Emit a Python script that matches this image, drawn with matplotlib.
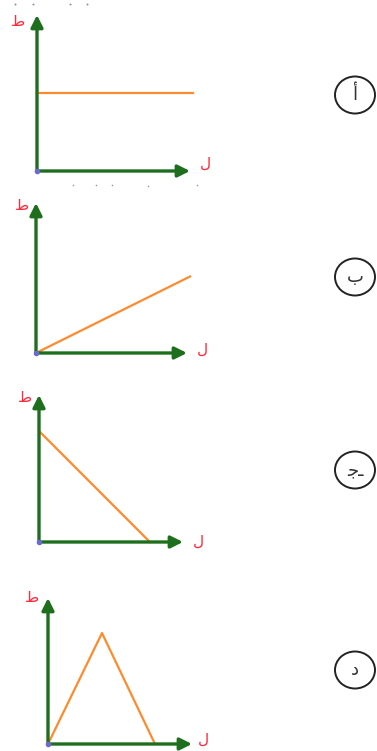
import matplotlib.pyplot as plt
from matplotlib.patches import Ellipse

W, H = 377, 751

# each panel: velocity (ط) against time (ل), arbitrary units 0..10
panel_letters = ['أ', 'ب', 'ﺟـ', 'د']
t_a = [0, 10.2]
v_a = [5.0, 5.0]
t_b = [0, 10.2]
v_b = [0, 5.1]
t_c = [0, 7.7]
v_c = [7.55, 0]
t_d = [0, 3.75, 7.43]
v_d = [0, 7.6, 0]
series = [(t_a, v_a), (t_b, v_b), (t_c, v_c), (t_d, v_d)]

# panel geometry in pixels: origin x, origin y, axis length x, axis length y
boxes = [(37, 171, 153, 156), (36, 353, 151, 150),
         (39, 542, 144, 147), (48, 744, 144, 146)]
ylab_pos = [(18, 21), (22, 205), (25, 397), (32, 597)]
xlab_pos = [(205, 163), (202, 349), (198, 541), (203, 739)]
circle_pos = [(355, 95), (355, 277), (355, 470), (355, 670)]

green = '#1d6e1d'
orange = '#ff8a2e'
red = '#ff2a3a'

fig = plt.figure(figsize=(W / 100, H / 100), dpi=100)
bg = fig.add_axes([0, 0, 1, 1])
bg.set_xlim(0, W)
bg.set_ylim(H, 0)
bg.axis('off')

for i, (ox, oy, lx, ly) in enumerate(boxes):
    ax = fig.add_axes([ox / W, 1 - oy / H, lx / W, ly / H])
    ax.set_xlim(0, 10)
    ax.set_ylim(0, 10)
    ax.axis('off')
    t, v = series[i]
    ax.plot(t, v, color=orange, lw=1.6, clip_on=False, zorder=2)
    for tip in [(10, 0), (0, 10)]:
        ax.annotate('', xy=tip, xytext=(0, 0),
                    arrowprops=dict(arrowstyle='-|>,head_length=0.6,head_width=0.3',
                                    color=green, lw=2.4,
                                    mutation_scale=12, shrinkA=0, shrinkB=0))
    ax.plot([0], [0], 'o', color='#6a6ad0', ms=3, clip_on=False, zorder=3)

    bg.text(*ylab_pos[i], 'ط', color=red, fontsize=11, ha='center', va='center')
    bg.text(*xlab_pos[i], 'ل', color=red, fontsize=11, ha='center', va='center')

    cx, cy = circle_pos[i]
    bg.add_patch(Ellipse((cx, cy), 40, 37, fill=False, ec='#222222', lw=1.4))
    bg.text(cx, cy, panel_letters[i], fontsize=13, color='#333333',
            ha='center', va='center')

# faint scan marks left over from cropped text
bg.scatter([15, 33, 70, 87], [4, 4, 4, 4], s=2, color='#334466', alpha=0.6, lw=0)
bg.scatter([73, 96, 112, 148, 197], [185, 185, 185, 186, 185], s=1.5,
           color='#334466', alpha=0.5, lw=0)

fig.savefig('out.png', dpi=100)
